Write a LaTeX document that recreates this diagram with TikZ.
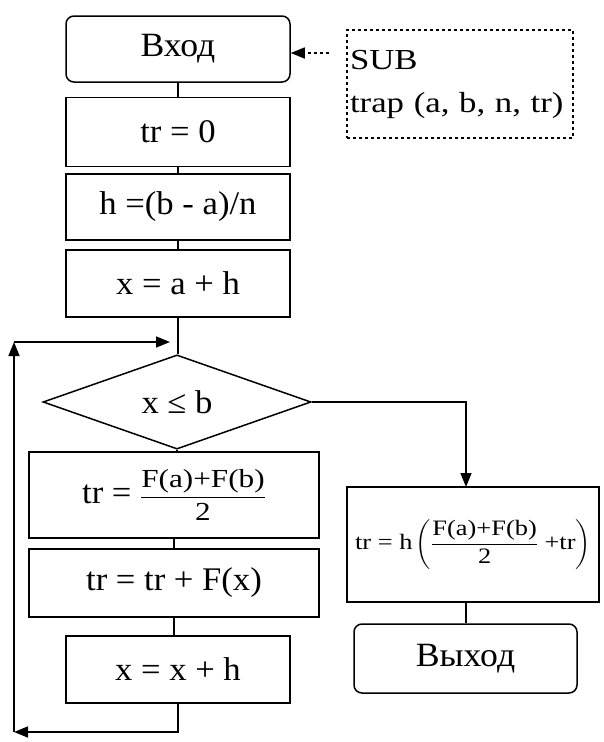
\documentclass[tikz,border=0pt]{standalone}
\usepackage{amsmath}
\usepackage{fontspec}
\setmainfont[FakeStretch=1.05]{Liberation Serif}
\newfontfamily\widefont[FakeStretch=1.2]{Liberation Serif}
\usetikzlibrary{shapes.geometric,arrows.meta}
\newcommand\trfrac[2]{\genfrac{}{}{1pt}{0}{\mbox{#1}}{\mbox{#2}}}
\begin{document}
\begin{tikzpicture}[x=1pt,y=-1pt,line width=1.5pt,>={Triangle[length=14pt,width=11pt]},
	font=\fontsize{33}{38}\selectfont,
	op/.style={draw,minimum width=224pt,minimum height=66pt,inner sep=1pt,align=center},
	term/.style={op,rounded corners=8pt,font=\fontsize{34}{38}\selectfont},
	wide/.style={op,minimum width=290pt}]
	\useasboundingbox (0,0) rectangle (604,742);
	\node[term] (entry) at (178,49) {Вход};
	\node[draw,dashed,minimum width=226pt,minimum height=108pt,text width=220pt,inner sep=2pt,align=left,
		font=\widefont\fontsize{29}{43}\selectfont] (sub) at (460,84) {SUB\\trap (a, b, n, tr)};
	\node[op,minimum height=69pt] (tr0) at (178,132) {tr = 0};
	\node[op] (hcalc) at (178,207) {h =(b - a)/n};
	\node[op,minimum height=67pt] (xinit) at (178,283.5) {x = a + h};
	\node[draw,diamond,minimum width=268pt,minimum height=90pt,inner sep=0pt] (cond) at (177,402) {x ≤ b};
	\node[wide,minimum height=86pt] (trinit) at (174,495)
		{tr = $\trfrac{\widefont\fontsize{26}{30}\selectfont F(a)+F(b)}{\widefont\fontsize{26}{30}\selectfont 2}$};
	\node[wide,minimum height=68pt] (trsum) at (174,583) {tr = tr + F(x)};
	\node[op,minimum height=67pt] (xstep) at (178,669.5) {x = x + h};
	\node[op,minimum width=252pt,minimum height=115pt,inner sep=0pt,font=\widefont\fontsize{22}{26}\selectfont] (result) at (473,544.5)
		{$\mbox{tr = h}\left(\trfrac{F(a)+F(b)}{2}\mbox{ +tr}\right)$};
	\node[term,minimum width=223pt,minimum height=69pt] (exit) at (465.5,658.5) {Выход};
	% straight chain
	\foreach \a/\b in {entry/tr0,tr0/hcalc,hcalc/xinit,xinit/cond,trinit/trsum,trsum/xstep}
		\draw (\a.south) -- (\a.south |- \b.north);
	\draw (cond.south) -- (cond.south |- trinit.north);
	\coordinate (dsh) at (329,53);
	\draw[dashed,->] (dsh) -- (entry.east |- dsh);
	% loop back
	\coordinate (lb) at (14,732);
	\coordinate (lt) at (14,342);
	\coordinate (lj) at (170,342);
	\draw[->] (xstep.south) |- (lb);
	\draw[->] (lb) -- (lt);
	\draw[->] (lt) -- (lj);
	% exit branch
	\coordinate (rin) at (466,487);
	\draw[->] (cond.east) -| (rin);
	\draw (result.south -| rin) -- (exit.north -| rin);
\end{tikzpicture}
\end{document}
